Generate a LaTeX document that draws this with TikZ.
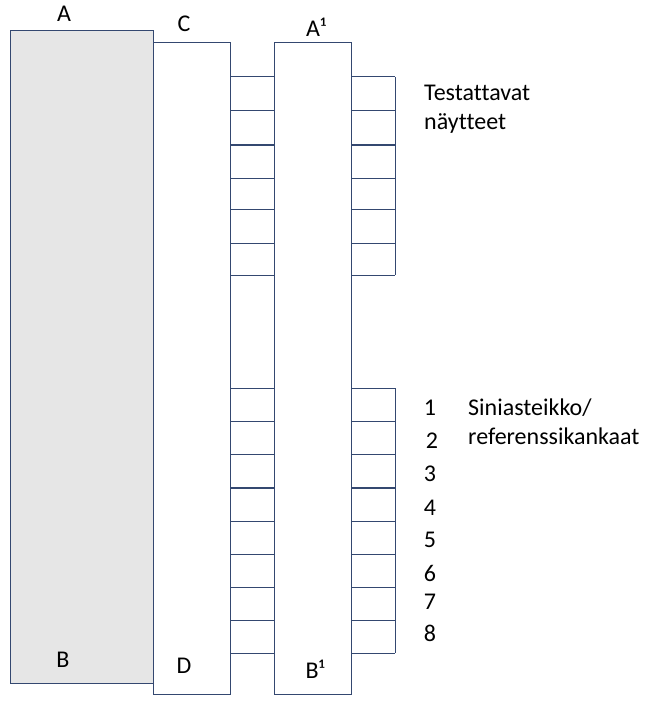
\documentclass[tikz,border=0pt]{standalone}
\usepackage{fontspec}
\setmainfont[Ligatures=NoCommon]{Carlito}
\definecolor{edge}{RGB}{52,72,112}
\definecolor{grayfill}{RGB}{230,230,230}
\begin{document}
\begin{tikzpicture}[x=1pt,y=-1pt,
  box/.style={draw=edge,line width=1pt},
  rung/.style={draw=edge,line width=1pt},
  thickrung/.style={draw=edge,line width=1.8pt},
  lbl/.style={font=\fontsize{24}{28}\selectfont,inner sep=0pt,text=black},
  txt/.style={font=\fontsize{24}{29}\selectfont,inner sep=0pt,text=black,anchor=west,align=left}]
\useasboundingbox (0,0) rectangle (665,706);
% main rectangles
\draw[box,fill=grayfill] (10,31) rectangle (153,683);
\draw[box,fill=white] (153,43) rectangle (230,694);
\draw[box,fill=white] (274,43) rectangle (351,694);
% ladders
\foreach \y in {77,178,209,243,275,388,421,454,521,554,587,620,653}{
  \draw[rung] (230,\y) -- (274,\y);
  \draw[rung] (351,\y) -- (395,\y);
}
\foreach \y in {110.5,145,488}{
  \draw[thickrung] (230,\y) -- (274,\y);
  \draw[thickrung] (351,\y) -- (395,\y);
}
\draw[box] (395,77) -- (395,275);
\draw[box] (395,388) -- (395,653);
% labels
\node[lbl] (lA) at (64,14) {A};
\node[lbl] (lC) at (184,24) {C};
\node[lbl] (lA1) at (316,27) {A¹};
\node[lbl] (lB) at (63,660) {B};
\node[lbl] (lD) at (184,666) {D};
\node[lbl] (lB1) at (315,669) {B¹};
\node[txt] (test) at (424,109) {Testattavat\\näytteet};
\node[txt] (sini) at (468,422) {Siniasteikko/\\referenssikankaat};
\node[lbl] (n1) at (430,408) {1};
\node[lbl] (n2) at (432,441) {2};
\node[lbl] (n3) at (430,474) {3};
\node[lbl] (n4) at (430,508) {4};
\node[lbl] (n5) at (430,540) {5};
\node[lbl] (n6) at (430,573) {6};
\node[lbl] (n7) at (430,602) {7};
\node[lbl] (n8) at (430,633) {8};
\end{tikzpicture}
\end{document}
